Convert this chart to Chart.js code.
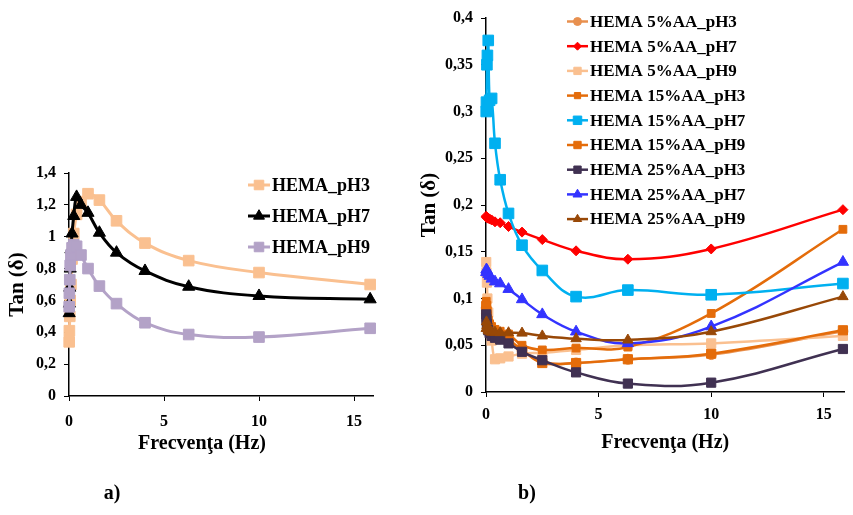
<!DOCTYPE html>
<html>
<head>
<meta charset="utf-8">
<script src="https://cdn.jsdelivr.net/npm/chart.js@4/dist/chart.umd.min.js"></script>
<style>
  body { margin: 0; background: #fff; }
  #wrap { position: relative; width: 853px; height: 515px; }
  canvas { position: absolute; top: 0; }
</style>
</head>
<body>
<div id="wrap">
  <canvas id="chartA" width="400" height="515" style="left:0"></canvas>
  <canvas id="chartB" width="443" height="515" style="left:410px"></canvas>
</div>
<script>
// frecventa (Hz), comuna pentru toate seriile
var freq = [0.01, 0.02, 0.04, 0.063, 0.1, 0.16, 0.25, 0.4, 0.63, 1, 1.6, 2.5, 4, 6.3, 10, 15.85];

// a) HEMA
var hemaPH3 = [0.34, 0.41, 0.50, 0.60, 0.70, 0.86, 1.02, 1.14, 1.22, 1.27, 1.23, 1.10, 0.96, 0.85, 0.775, 0.70];
var hemaPH7 = [0.52, 0.58, 0.68, 0.80, 0.92, 1.02, 1.13, 1.25, 1.20, 1.15, 1.025, 0.90, 0.785, 0.686, 0.628, 0.607];
var hemaPH9 = [0.56, 0.645, 0.73, 0.82, 0.885, 0.93, 0.95, 0.94, 0.885, 0.80, 0.69, 0.58, 0.46, 0.386, 0.37, 0.425];

// b) HEMA + AA
var aa5PH3  = [0.090, 0.084, 0.077, 0.071, 0.067, 0.064, 0.062, 0.060, 0.057, 0.054, 0.045, 0.032, 0.031, 0.035, 0.040, 0.065];
var aa5PH7  = [0.188, 0.187, 0.187, 0.186, 0.186, 0.185, 0.184, 0.182, 0.181, 0.177, 0.171, 0.163, 0.151, 0.142, 0.153, 0.195];
var aa5PH9  = [0.139, 0.128, 0.117, 0.100, 0.085, 0.070, 0.055, 0.035, 0.036, 0.038, 0.041, 0.042, 0.045, 0.050, 0.052, 0.060];
var aa15PH3 = [0.097, 0.092, 0.087, 0.082, 0.077, 0.073, 0.070, 0.067, 0.065, 0.062, 0.050, 0.045, 0.047, 0.048, 0.084, 0.174];
var aa15PH7 = [0.300, 0.310, 0.350, 0.360, 0.376, 0.312, 0.314, 0.266, 0.227, 0.191, 0.157, 0.130, 0.102, 0.109, 0.104, 0.116];
var aa15PH9 = [0.092, 0.086, 0.080, 0.075, 0.070, 0.067, 0.064, 0.062, 0.060, 0.056, 0.045, 0.031, 0.031, 0.035, 0.041, 0.066];
var aa25PH3 = [0.083, 0.078, 0.073, 0.069, 0.066, 0.063, 0.060, 0.058, 0.056, 0.052, 0.043, 0.034, 0.021, 0.009, 0.010, 0.046];
var aa25PH7 = [0.128, 0.131, 0.130, 0.128, 0.126, 0.124, 0.121, 0.118, 0.116, 0.110, 0.099, 0.083, 0.0645, 0.052, 0.070, 0.139];
var aa25PH9 = [0.068, 0.075, 0.071, 0.068, 0.066, 0.065, 0.064, 0.064, 0.0635, 0.0634, 0.063, 0.060, 0.057, 0.0556, 0.0645, 0.102];

// axe
var xTicks = [0, 5, 10, 15];
var yTicksA = [0, 0.2, 0.4, 0.6, 0.8, 1, 1.2, 1.4];
var yTicksB = [0, 0.05, 0.1, 0.15, 0.2, 0.25, 0.3, 0.35, 0.4];

var serif = '"Liberation Serif", "Times New Roman", serif';
Chart.defaults.font.family = serif;
Chart.defaults.font.weight = 'bold';
Chart.defaults.font.size = 16;
Chart.defaults.color = '#000';

function fmt(v) {
    return String(parseFloat(v.toFixed(2))).replace('.', ',');
}

function serie(label, values, color, style, radius, width) {
    return {
        label: label,
        data: freq.map(function (f, i) { return { x: f, y: values[i] }; }),
        borderColor: color,
        backgroundColor: color,
        pointStyle: style,
        pointRadius: radius,
        pointHoverRadius: radius,
        pointBorderWidth: 1,
        borderWidth: width,
        tension: 0.4,
        fill: false,
        clip: false
    };
}

// ultima serie desenata deasupra (ca in Excel)
function stack(list) {
    list.forEach(function (ds, i) { ds.order = list.length - i; });
    return list;
}

// legenda desenata in interiorul graficului
var sideLegend = {
    id: 'sideLegend',
    afterDraw: function (chart, args, o) {
        var ctx = chart.ctx;
        ctx.save();
        ctx.font = 'bold ' + o.size + 'px ' + serif;
        ctx.textBaseline = 'middle';
        chart.data.datasets.forEach(function (ds, i) {
            var y = o.top + i * o.rowH;
            ctx.strokeStyle = ds.borderColor;
            ctx.fillStyle = ds.backgroundColor;
            ctx.lineWidth = ds.borderWidth;
            ctx.beginPath();
            ctx.moveTo(o.left, y);
            ctx.lineTo(o.left + o.lineW, y);
            ctx.stroke();
            ctx.lineWidth = 1;
            Chart.helpers.drawPoint(ctx, { pointStyle: ds.pointStyle, radius: ds.pointRadius * o.markScale, rotation: 0, borderWidth: 1 }, o.left + o.lineW / 2, y);
            ctx.fillStyle = '#000';
            ctx.fillText(ds.label, o.left + o.lineW + 2, y + 1);
        });
        ctx.restore();
    }
};

var freeText = {
    id: 'freeText',
    afterDraw: function (chart, args, o) {
        var ctx = chart.ctx;
        ctx.save();
        ctx.fillStyle = '#000';
        ctx.textAlign = 'center';
        ctx.textBaseline = 'middle';
        o.items.forEach(function (t) {
            ctx.font = 'bold ' + t.size + 'px ' + serif;
            ctx.fillText(t.text, t.x, t.y);
        });
        ctx.restore();
    }
};

function axes(yMax, yTicks, yWidth, xHeight, xPad, xTitle) {
    return {
        x: {
            type: 'linear', min: 0, max: xTitle ? 15.92 : 16,
            afterBuildTicks: function (s) { s.ticks = xTicks.map(function (v) { return { value: v }; }); },
            afterFit: function (s) { s.height = xHeight; },
            grid: { drawOnChartArea: false, tickLength: 5, color: '#000' },
            border: { color: '#000', width: 1.5 },
            ticks: { padding: xPad, maxRotation: 0 },
            title: { display: !!xTitle, text: 'Frecvenţa (Hz)', font: { size: 20 }, padding: 0 }
        },
        y: {
            min: 0, max: yMax,
            afterBuildTicks: function (s) { s.ticks = yTicks.map(function (v) { return { value: v }; }); },
            afterFit: function (s) { s.width = yWidth; },
            grid: { drawOnChartArea: false, tickLength: 5, color: '#000' },
            border: { color: '#000', width: 1.5 },
            ticks: { padding: 8, callback: function (v) { return fmt(v); } },
            title: { display: true, text: 'Tan (δ)', font: { size: 21 }, padding: { top: xTitle ? 7 : 5 } }
        }
    };
}

new Chart(document.getElementById('chartA').getContext('2d'), {
    type: 'line',
    data: {
        datasets: stack([
            serie('HEMA_pH3', hemaPH3, '#FAC090', 'rect', 7.5, 3),
            serie('HEMA_pH7', hemaPH7, '#000000', 'triangle', 7, 3),
            serie('HEMA_pH9', hemaPH9, '#B3A2C7', 'rect', 7.5, 3)
        ])
    },
    options: {
        responsive: false,
        animation: false,
        layout: { padding: { left: 0, right: 27, top: 173, bottom: 59 } },
        scales: axes(1.4, yTicksA, 69, 60, 11, false),
        plugins: {
            legend: { display: false },
            tooltip: { enabled: false },
            sideLegend: { left: 248, lineW: 22, top: 185, rowH: 31, size: 18, markScale: 0.9 },
            freeText: { items: [
                { text: 'Frecvenţa (Hz)', x: 202, y: 444, size: 20 },
                { text: 'a)', x: 112, y: 494, size: 20 }
            ] }
        }
    },
    plugins: [sideLegend, freeText]
});

new Chart(document.getElementById('chartB').getContext('2d'), {
    type: 'line',
    data: {
        datasets: stack([
            serie('HEMA 5%AA_pH3', aa5PH3, '#E8904F', 'circle', 5, 2.5),
            serie('HEMA 5%AA_pH7', aa5PH7, '#FF0000', 'rectRot', 5, 2.5),
            serie('HEMA 5%AA_pH9', aa5PH9, '#FAC090', 'rect', 6.5, 2.5),
            serie('HEMA 15%AA_pH3', aa15PH3, '#E46C0A', 'rect', 5.5, 2.5),
            serie('HEMA 15%AA_pH7', aa15PH7, '#00B0F0', 'rect', 7.5, 2.5),
            serie('HEMA 15%AA_pH9', aa15PH9, '#E46C0A', 'rect', 6.5, 2.5),
            serie('HEMA 25%AA_pH3', aa25PH3, '#403152', 'rect', 6.5, 2.5),
            serie('HEMA 25%AA_pH7', aa25PH7, '#3333FF', 'triangle', 6.5, 2.5),
            serie('HEMA 25%AA_pH9', aa25PH9, '#984807', 'triangle', 6, 2.5)
        ])
    },
    options: {
        responsive: false,
        animation: false,
        layout: { padding: { left: 0, right: 0, top: 18, bottom: 60 } },
        scales: axes(0.4, yTicksB, 76, 63, 8, true),
        plugins: {
            legend: { display: false },
            tooltip: { enabled: false },
            sideLegend: { left: 157, lineW: 21, top: 21.5, rowH: 24.7, size: 17, markScale: 0.8 },
            freeText: { items: [
                { text: 'b)', x: 117, y: 494, size: 20 }
            ] }
        }
    },
    plugins: [sideLegend, freeText]
});
</script>
</body>
</html>
